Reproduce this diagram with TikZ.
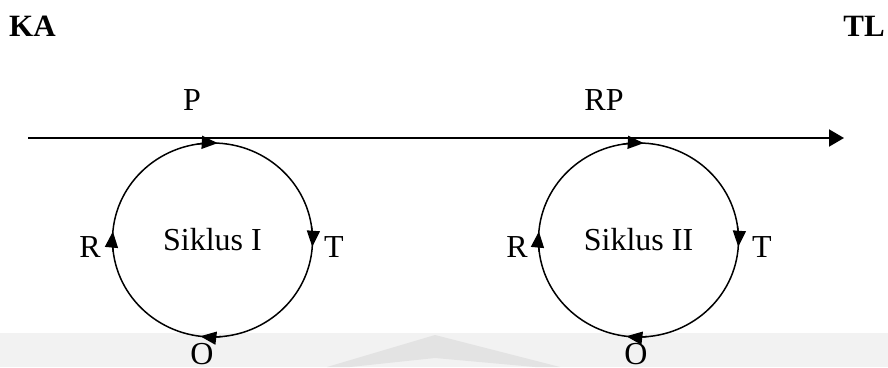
\documentclass[tikz,border=0pt]{standalone}
\usepackage{fontspec}
\setmainfont{Liberation Serif}
\usetikzlibrary{arrows.meta,shapes.geometric}

\tikzset{
  lbl/.style={font=\fontsize{32}{38}\selectfont, inner sep=0pt, anchor=base},
  hdr/.style={lbl, font=\fontsize{31}{36}\selectfont\bfseries},
  cycle node/.style={draw, line width=1.5pt, ellipse, inner sep=0pt,
    minimum width=200pt, minimum height=194pt,
    font=\fontsize{32}{38}\selectfont},
  flow/.style={line width=2pt, -{Triangle[length=15pt,width=17pt]}},
  turn/.style={line width=1.5pt, -{Triangle[length=16pt,width=13pt]}},
}

\begin{document}
\begin{tikzpicture}[x=1pt,y=1pt]
  \useasboundingbox (0,0) rectangle (888,367);
  \clip (0,0) rectangle (888,367);

  % faint grey band with logo along the bottom edge
  \fill[black!5] (0,0) rectangle (888,34);
  \fill[black!11] (327,0) -- (435,32) -- (560,0) -- (535,0) -- (435,9) -- (350,0) -- cycle;

  % headings
  \node[hdr, anchor=base west] (ka) at (9,330) {KA};
  \node[hdr, anchor=base east] (tl) at (885,330) {TL};

  % main time line
  \coordinate (start) at (28,229);
  \coordinate (end) at (844,229);
  \draw[flow] (start) -- (end);

  \node[lbl] (p) at (192,256) {P};
  \node[lbl] (rp) at (604,256) {RP};

  % the two cycles
  \node[cycle node] (c1) at (212.5,127) {Siklus I};
  \node[cycle node] (c2) at (638.5,127) {Siklus II};

  \foreach \c in {c1,c2} {
    \draw[turn] ([shift={(99:100pt and 97pt)}]\c.center) arc[start angle=99, end angle=87, x radius=100pt, y radius=97pt];
    \draw[turn] ([shift={(8:100pt and 97pt)}]\c.center) arc[start angle=8, end angle=-4, x radius=100pt, y radius=97pt];
    \draw[turn] ([shift={(275:100pt and 97pt)}]\c.center) arc[start angle=275, end angle=263, x radius=100pt, y radius=97pt];
    \draw[turn] ([shift={(187:100pt and 97pt)}]\c.center) arc[start angle=187, end angle=175, x radius=100pt, y radius=97pt];
  }

  % stage labels around each cycle
  \node[lbl, anchor=base east] (r1) at (101,110) {R};
  \node[lbl, anchor=base west] (t1) at (324,110) {T};
  \node[lbl] (o1) at (202,3) {O};
  \node[lbl, anchor=base east] (r2) at (528,110) {R};
  \node[lbl, anchor=base west] (t2) at (752,110) {T};
  \node[lbl] (o2) at (636,3) {O};
\end{tikzpicture}
\end{document}
